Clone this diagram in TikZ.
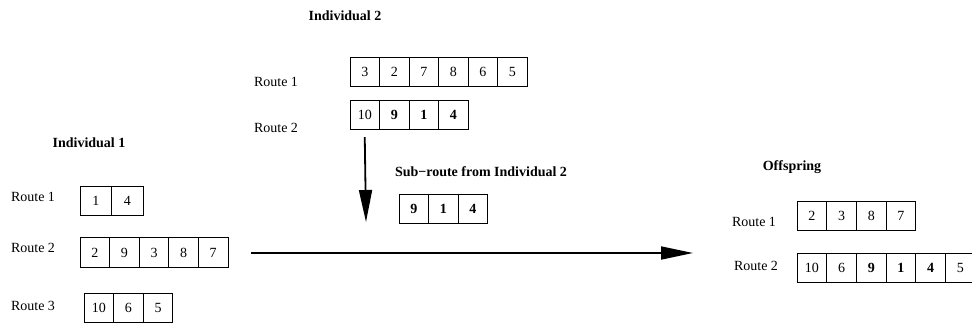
\documentclass[tikz,border=0pt]{standalone}
\usepackage{fontspec}
\setmainfont{Liberation Serif}
\usepackage{tikz}
\usetikzlibrary{arrows.meta,positioning}

\begin{document}
\begin{tikzpicture}[
  x=1pt, y=-1pt,
  cell/.style={draw, line width=0.8pt, minimum width=29.6pt, minimum height=29.6pt,
               inner sep=0pt, font=\fontsize{14}{16}\selectfont},
  lbl/.style={inner sep=0pt, font=\fontsize{14}{16}\selectfont},
  head/.style={inner sep=0pt, font=\fontsize{14}{16}\selectfont\bfseries},
  arr/.style={-{Triangle[length=32pt, width=13pt]}, line width=1.8pt}
]
\useasboundingbox (0,0) rectangle (972,327);

% parent 2
\node[head] (ind2) at (345,16) {Individual 2};
\node[lbl] (i2r1lbl) at (276,82) {Route 1};
\node[lbl] (i2r2lbl) at (276,128) {Route 2};
\foreach \v [count=\k] in {3,2,7,8,6,5}
  \node[cell] (i2r1-\k) at ({350+(\k-0.5)*29.5},72) {\v};
\foreach \v [count=\k] in {10,\textbf{9},\textbf{1},\textbf{4}}
  \node[cell] (i2r2-\k) at ({350+(\k-0.5)*29.5},115) {\v};

% parent 1
\node[head] (ind1) at (89,143) {Individual 1};
\node[lbl] (i1r1lbl) at (33,197) {Route 1};
\node[lbl] (i1r2lbl) at (33,248) {Route 2};
\node[lbl] (i1r3lbl) at (33,306) {Route 3};
\foreach \v [count=\k] in {1,4}
  \node[cell, minimum width=31.5pt] (i1r1-\k) at ({80+(\k-0.5)*31.5},201) {\v};
\foreach \v [count=\k] in {2,9,3,8,7}
  \node[cell] (i1r2-\k) at ({80+(\k-0.5)*29.6},252.5) {\v};
\foreach \v [count=\k] in {10,6,5}
  \node[cell] (i1r3-\k) at ({84+(\k-0.5)*29.6},308) {\v};

% sub-route taken over
\node[head] (subhead) at (481,172) {Sub−route from Individual 2};
\foreach \v [count=\k] in {9,1,4}
  \node[cell, font=\fontsize{14}{16}\selectfont\bfseries] (sub-\k) at ({399+(\k-0.5)*29.5},209) {\v};

% child
\node[head] (off) at (792,167) {Offspring};
\node[lbl] (offr1lbl) at (754,222) {Route 1};
\node[lbl] (offr2lbl) at (756,266) {Route 2};
\foreach \v [count=\k] in {2,3,8,7}
  \node[cell] (offr1-\k) at ({797+(\k-0.5)*29.7},216) {\v};
\foreach \v [count=\k] in {10,6,\textbf{9},\textbf{1},\textbf{4},5}
  \node[cell] (offr2-\k) at ({797+(\k-0.5)*29.7},268) {\v};

\coordinate (dropend) at (366,222);
\coordinate (crossstart) at (251,253);
\coordinate (crossend) at (693,253);
\draw[arr] ([yshift=-7pt]i2r2-1.south) -- (dropend);
\draw[arr] (crossstart) -- (crossend);
\end{tikzpicture}
\end{document}
